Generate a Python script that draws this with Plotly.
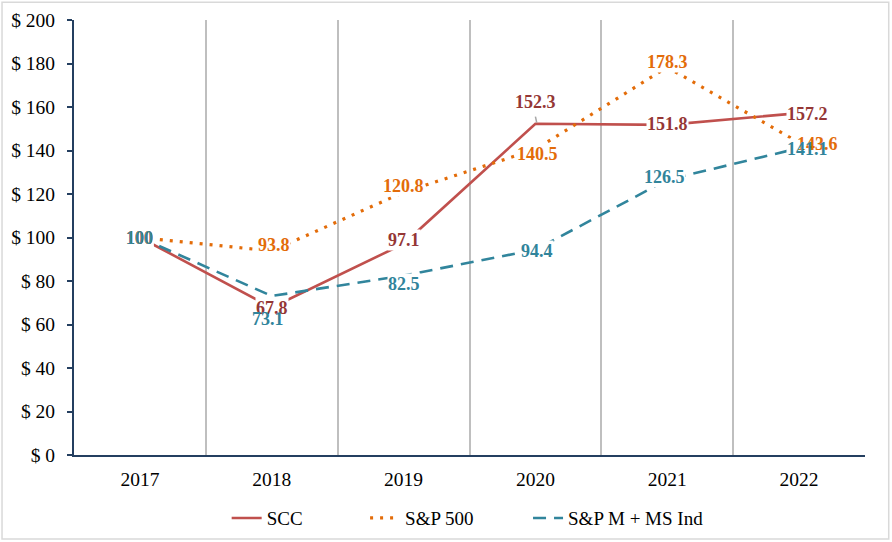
import plotly.graph_objects as go

# --- Datos (lectura del grafico) ---
years = ["2017", "2018", "2019", "2020", "2021", "2022"]
scc = [100, 67.8, 97.1, 152.3, 151.8, 157.2]
sp500 = [100, 93.8, 120.8, 140.5, 178.3, 143.6]
sp_mid = [100, 73.1, 82.5, 94.4, 126.5, 141.1]
y_ticks = [0, 20, 40, 60, 80, 100, 120, 140, 160, 180, 200]

FONT = "Liberation Serif"
# nombre, valores, color linea, color etiqueta, trazo, grosor, leyenda, x leyenda
series = [
    ("SCC", scc, "#C0504D", "#953735", "solid", 2.6, "legend", 0.193),
    ("S&P 500", sp500, "#E36C09", "#E36C09", "3px,7px", 3.2, "legend2", 0.368),
    ("S&P M + MS Ind", sp_mid, "#31859C", "#31849B", "13px,8px", 2.6, "legend3", 0.574),
]

# desplazamiento de etiquetas (px) por serie y anio
shifts = {
    "SCC": [(0, 0), (0, 0), (0, 4), (0, 22), (0, 1), (8, -1)],
    "S&P 500": [(0, 0), (2, 6), (0, 6), (2, -5), (0, 5), (18, -1)],
    "S&P M + MS Ind": [(0, 0), (-4, -23), (0, -8), (2, -1), (-3, 3), (8, -1)],
}

fig = go.Figure()
legends = {}
for name, vals, col, _, dash, w, leg, lx in series:
    fig.add_trace(go.Scatter(
        x=years, y=vals, name=name, mode="lines", legend=leg,
        line=dict(color=col, width=w, dash=dash),
    ))
    legends[leg] = dict(orientation="h", x=lx, xanchor="left", y=-0.145, yanchor="middle",
                        bgcolor="rgba(0,0,0,0)",
                        font=dict(family=FONT, size=19, color="black"))

# 1) cajas blancas que cortan las lineas, 2) textos encima
for layer in ("box", "text"):
    for name, vals, _, lcol, _, _, _, _ in series:
        for i, v in enumerate(vals):
            dx, dy = shifts[name][i]
            txt = "100" if v == 100 else f"{v:.1f}"
            fig.add_annotation(
                x=i, y=v, xref="x", yref="y", text="<b>" + txt + "</b>", showarrow=False,
                xshift=dx, yshift=dy, borderpad=0,
                bgcolor="white" if layer == "box" else "rgba(0,0,0,0)",
                font=dict(family=FONT, size=18, color="white" if layer == "box" else lcol),
            )

fig.update_layout(
    width=892, height=542,
    margin=dict(l=74, r=27, t=20, b=87, autoexpand=False),
    paper_bgcolor="white", plot_bgcolor="white",
    font=dict(family=FONT, size=19.5, color="black"),
    showlegend=True,
    xaxis=dict(
        type="category", tickson="boundaries", showgrid=True, gridcolor="#BFBFBF", gridwidth=1.5,
        showline=True, linecolor="#243F60", linewidth=2, ticks="", range=[-0.5, 5.5],
        tickfont=dict(family=FONT, size=19.5), ticklabelstandoff=6,
    ),
    yaxis=dict(
        range=[0, 200], tickvals=y_ticks, ticktext=["$ " + str(v) for v in y_ticks],
        showgrid=False, zeroline=False, showline=True, linecolor="#243F60", linewidth=2,
        ticks="outside", ticklen=5, tickcolor="#243F60", tickwidth=2,
        tickfont=dict(family=FONT, size=19.5), ticklabelstandoff=8,
    ),
    **legends,
)

# linea guia de la etiqueta 152.3
fig.add_shape(type="line", xref="x", yref="y", x0=3.01, x1=3.0, y0=152.8, y1=155.6,
              line=dict(color="#A6A6A6", width=1.5))
# borde del grafico
fig.add_shape(type="rect", xref="paper", yref="paper", x0=-0.091, x1=1.03, y0=-0.193, y1=1.041,
              line=dict(color="#D9D9D9", width=1.5), layer="below")

fig.write_html("out.html", config={"displayModeBar": False},
               post_script="document.body.style.margin = '0';")
